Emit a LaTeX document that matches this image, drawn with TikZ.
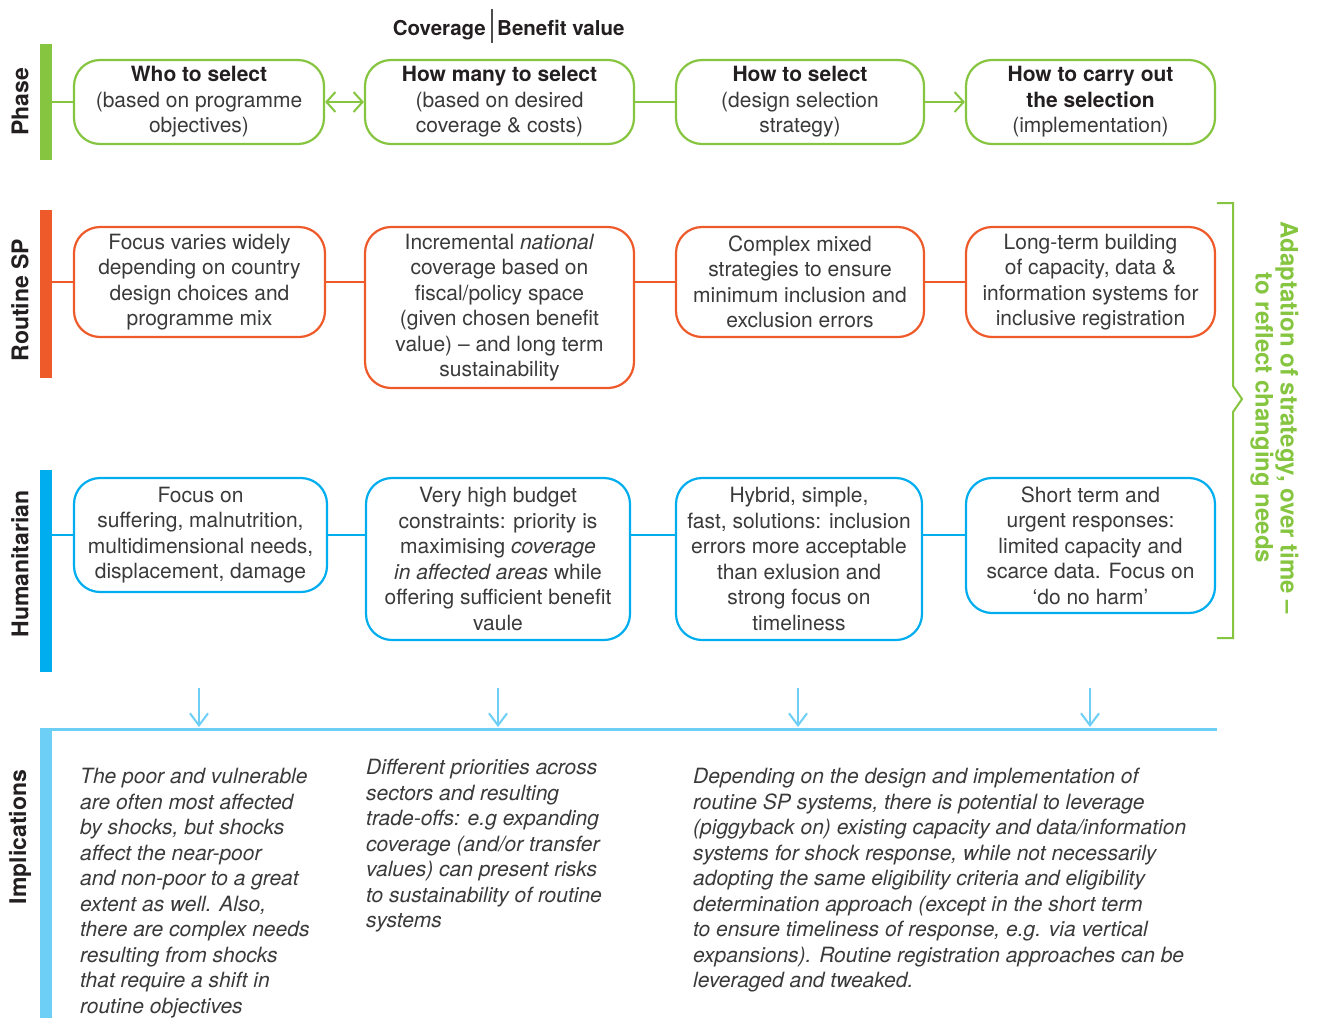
\documentclass[tikz,border=0pt]{standalone}
\usepackage{fontspec}
\setmainfont{TeX Gyre Heros}
\usetikzlibrary{arrows.meta}
\definecolor{pgreen}{HTML}{86C540}
\definecolor{porange}{HTML}{EE5A2A}
\definecolor{pblue}{HTML}{00AEEF}
\definecolor{plight}{HTML}{6DCFF6}
\definecolor{ptext}{HTML}{3A3A3A}
\definecolor{pdark}{HTML}{231F20}
\begin{document}
\begin{tikzpicture}[x=1pt,y=-1pt,
  box/.style={draw, line width=2.2pt, rounded corners=26pt, fill=white, align=center,
    inner sep=0pt, text=ptext, font=\fontsize{21}{25.5}\selectfont,
    execute at begin node={\rule{0pt}{20.5pt}}},
  bar/.style={inner sep=0pt, minimum width=12pt},
  rowlabel/.style={rotate=90, inner sep=0pt, font=\fontsize{23}{27}\selectfont\bfseries, text=pdark},
  impl/.style={anchor=north west, align=left, inner sep=0pt, text=ptext,
    font=\fontsize{21}{25.5}\selectfont\itshape},
  conn/.style={line width=2pt},
  phasearrow/.style={conn, pgreen, >={Straight Barb[length=9pt,width=20pt]}},
  implarrow/.style={conn, plight, -{Straight Barb[length=12pt,width=18pt]}},
  hdr/.style={inner sep=0pt, font=\fontsize{20.5}{24}\selectfont\bfseries, text=pdark}
]
\fill[white] (0,0) rectangle (1317,1018);
\useasboundingbox (0,0) rectangle (1317,1018);

% header
\node[hdr, anchor=base east] (hcov) at (486,35.5) {Coverage};
\node[hdr, anchor=base west] (hben) at (497,35.5) {Benefit value};
\coordinate (dtop) at (491.5,9);
\coordinate (dbot) at (491.5,43);
\draw[line width=2pt, pdark!80] (dtop) -- (dbot);

% bars and row labels
\node[bar, fill=pgreen, minimum height=116pt] (pbar) at (46,102) {};
\node[bar, fill=porange, minimum height=168pt] (rbar) at (46,294) {};
\node[bar, fill=pblue, minimum height=202pt] (hbar) at (46,571) {};
\node[bar, fill=plight, minimum height=289pt] (ibar) at (46,873.5) {};
\node[rowlabel] (lphase) at (20,102) {Phase};
\node[rowlabel] (lroutine) at (20,300) {Routine SP};
\node[rowlabel] (lhum) at (20,564) {Humanitarian};
\node[rowlabel] (limpl) at (20,837) {Implications};

% phase row
\node[box, draw=pgreen, minimum width=250pt, minimum height=84pt] (p1) at (199,102)
  {\textcolor{pdark}{\textbf{Who to select}}\\(based on programme\\objectives)};
\node[box, draw=pgreen, minimum width=269pt, minimum height=84pt] (p2) at (499.5,102)
  {\textcolor{pdark}{\textbf{How many to select}}\\(based on desired\\coverage \& costs)};
\node[box, draw=pgreen, minimum width=248pt, minimum height=84pt] (p3) at (800,102)
  {\textcolor{pdark}{\textbf{How to select}}\\(design selection\\strategy)};
\node[box, draw=pgreen, minimum width=249pt, minimum height=84pt] (p4) at (1090.5,102)
  {\textcolor{pdark}{\textbf{How to carry out}}\\\textcolor{pdark}{\textbf{the selection}}\\(implementation)};
\draw[phasearrow] (pbar.east) -- (p1.west);
\draw[phasearrow, <->] (p1.east) -- (p2.west);
\draw[phasearrow] (p2.east) -- (p3.west);
\draw[phasearrow, ->] (p3.east) -- (p4.west);

% routine row
\node[box, draw=porange, minimum width=251pt, minimum height=110pt] (r1) at (199.5,282)
  {Focus varies widely\\depending on country\\design choices and\\programme mix};
\node[box, draw=porange, minimum width=269pt, minimum height=161pt] (r2) at (499.5,307.5)
  {Incremental \textit{national}\\coverage based on\\fiscal/policy space\\(given chosen benefit\\value) -- and long term\\sustainability};
\node[box, draw=porange, minimum width=248pt, minimum height=110pt] (r3) at (800,282)
  {Complex mixed\\strategies to ensure\\minimum inclusion and\\exclusion errors};
\node[box, draw=porange, minimum width=249pt, minimum height=110pt] (r4) at (1090.5,282)
  {Long-term building\\of capacity, data \&\\information systems for\\inclusive registration};
\draw[conn, porange] (rbar.east |- r1.west) -- (r1.west);
\draw[conn, porange] (r1.east) -- (r1.east -| r2.west);
\draw[conn, porange] (r2.east |- r3.west) -- (r3.west);
\draw[conn, porange] (r3.east) -- (r4.west);

% humanitarian row
\node[box, draw=pblue, minimum width=253pt, minimum height=114pt] (h1) at (200.5,535)
  {Focus on\\suffering, malnutrition,\\multidimensional needs,\\displacement, damage};
\node[box, draw=pblue, minimum width=264pt, minimum height=162pt] (h2) at (498,559)
  {Very high budget\\constraints: priority is\\maximising \textit{coverage}\\\textit{in affected areas} while\\offering sufficient benefit\\vaule};
\node[box, draw=pblue, minimum width=246pt, minimum height=162pt] (h3) at (799,559)
  {Hybrid, simple,\\fast, solutions: inclusion\\errors more acceptable\\than exlusion and\\strong focus on\\timeliness};
\node[box, draw=pblue, minimum width=249pt, minimum height=135pt] (h4) at (1090.5,545.5)
  {Short term and\\urgent responses:\\limited capacity and\\scarce data. Focus on\\`do no harm'};
\draw[conn, pblue] (hbar.east |- h1.west) -- (h1.west);
\draw[conn, pblue] (h1.east) -- (h1.east -| h2.west);
\draw[conn, pblue] (h2.east |- h1.east) -- (h3.west |- h1.east);
\draw[conn, pblue] (h3.east |- h1.east) -- (h4.west |- h1.east);

% bracket and adaptation text
\draw[line width=2pt, pgreen] (1217,203) -- (1233,203) -- (1233,386) -- (1242,399) -- (1233,412) -- (1233,638) -- (1217,638);
\node[rotate=-90, align=center, inner sep=0pt, text=pgreen,
  font=\fontsize{24}{25}\selectfont\bfseries] (adapt) at (1274.5,418)
  {Adaptation of strategy, over time --\\to reflect changing needs};

% implications
\coordinate (iL) at (40,729.5);
\coordinate (iR) at (1217,729.5);
\draw[line width=3pt, plight] (iL) -- (iR);
\foreach \xx/\nm in {199/a1,498/a2,798/a3,1090/a4}{
  \coordinate (\nm s) at (\xx,688);
  \coordinate (\nm e) at (\xx,727);
  \draw[implarrow] (\nm s) -- (\nm e);
}
\node[impl] (t1) at (80,768)
  {The poor and vulnerable\\are often most affected\\by shocks, but shocks\\affect the near-poor\\and non-poor to a great\\extent as well. Also,\\there are complex needs\\resulting from shocks\\that require a shift in\\routine objectives};
\node[impl] (t2) at (366,759)
  {Different priorities across\\sectors and resulting\\trade-offs: e.g expanding\\coverage (and/or transfer\\values) can present risks\\to sustainability of routine\\systems};
\node[impl] (t3) at (693,768)
  {Depending on the design and implementation of\\routine SP systems, there is potential to leverage\\(piggyback on) existing capacity and data/information\\systems for shock response, while not necessarily\\adopting the same eligibility criteria and eligibility\\determination approach (except in the short term\\to ensure timeliness of response, e.g. via vertical\\expansions). Routine registration approaches can be\\leveraged and tweaked.};
\end{tikzpicture}
\end{document}
